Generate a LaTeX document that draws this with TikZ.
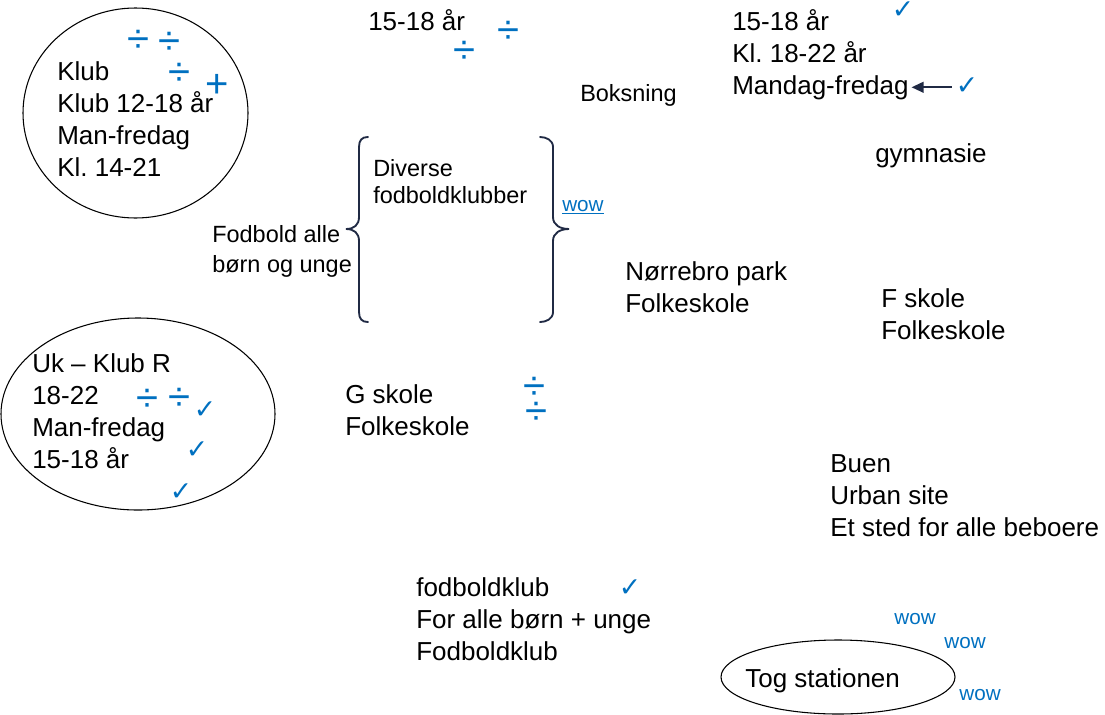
\documentclass[tikz,border=0pt]{standalone}
\usepackage{fontspec}
\setmainfont{Liberation Sans}
\newfontfamily\symfont{DejaVu Sans}
\usepackage{xcolor}
\usetikzlibrary{calc,arrows.meta}
\definecolor{pptblue}{RGB}{0, 112, 192}
\definecolor{pptnavy}{RGB}{32, 42, 68}
\frenchspacing

\begin{document}
\begin{tikzpicture}[x=0.75pt, y=-0.75pt,
  bigtext/.style={anchor=base west, align=left, inner sep=0pt, font=\fontsize{19.5}{24}\selectfont},
  smalltext/.style={anchor=base west, align=left, inner sep=0pt, font=\fontsize{17.6}{22}\selectfont},
  divmark/.style={inner sep=0pt, text=pptblue, font=\fontsize{30}{30}\selectfont},
  checkmark/.style={inner sep=0pt, text=pptblue, font=\symfont\fontsize{20}{20}\selectfont},
  wowtext/.style={inner sep=0pt, text=pptblue, font=\fontsize{15.5}{16}\selectfont},
  brace/.style={pptnavy, line width=1.4pt, line cap=round},
  bubble/.style={black, line width=0.8pt}]
\useasboundingbox (0,0) rectangle (1105,714);

% Klub bubble (text nodes sit on their last baseline)
\draw[bubble] (135.5,113) ellipse [x radius=112.5, y radius=105];
\node[bigtext] (klub) at (57,176) {Klub\\Klub 12-18 år\\Man-fredag\\Kl. 14-21};
\foreach \pos [count=\i] in {(138,41), (169,43), (179,74)} {
    \node[divmark] (klubdiv\i) at \pos {÷};
}
\node[divmark] (klubplus) at (217,86) {+};

% 15-18 aar and boksning
\node[bigtext] (alderA) at (368,30) {15-18 år};
\node[divmark] (alderAdiv1) at (464,52) {÷};
\node[divmark] (alderAdiv2) at (508,32) {÷};
\node[smalltext] (boksning) at (580,101) {Boksning};

% Top right block
\node[bigtext] (alderB) at (732,62) {15-18 år\\Kl. 18-22 år};
\node[bigtext] (mandag) at (732,94) {Mandag-fredag};
\node[checkmark] (chkB) at (903,10) {✓};
\node[checkmark] (chkMandag) at (967,86) {✓};
\draw[pptnavy, line width=1.5pt, -{Triangle[length=9pt,width=8pt]}, shorten <=3pt, shorten >=2pt]
    (chkMandag.west |- mandag.east) -- (mandag.east);

\node[bigtext] (gymnasie) at (875,162) {gymnasie};

% Fodbold with braces
\node[smalltext] (fodbold) at (212,272) {Fodbold alle\\børn og unge};
\node[smalltext, font=\fontsize{17.6}{20}\selectfont] (diverse) at (373,203) {Diverse\\fodboldklubber};
\draw[brace] (368,137) .. controls (362,137) and (359,140) .. (359,147) -- (359,217)
    .. controls (359,225) and (354,229) .. (346,229)
    .. controls (354,229) and (359,233) .. (359,241) -- (359,312)
    .. controls (359,319) and (362,322) .. (368,322);
\draw[brace] (540,137) .. controls (546,137) and (553,140) .. (553,147) -- (553,217)
    .. controls (553,225) and (560,229) .. (569,229)
    .. controls (560,229) and (553,233) .. (553,241) -- (553,312)
    .. controls (553,319) and (546,322) .. (540,322);
\node[wowtext, anchor=base west] (wowA) at (562,211) {\underline{wow}};

% Schools
\node[bigtext] (norrebro) at (625,312) {Nørrebro park\\Folkeskole};
\node[bigtext] (fskole) at (881,339) {F skole\\Folkeskole};

% Uk bubble
\draw[bubble] (138,414) ellipse [x radius=137, y radius=96];
\node[bigtext] (ukklub) at (32,468) {Uk – Klub R\\18-22\\Man-fredag\\15-18 år};
\foreach \pos [count=\i] in {(147,400), (179,399)} {
    \node[divmark] (ukdiv\i) at \pos {÷};
}
\foreach \pos [count=\i] in {(205,410), (197,450), (181,492)} {
    \node[checkmark] (ukchk\i) at \pos {✓};
}

% G skole
\node[bigtext] (gskole) at (345,435) {G skole\\Folkeskole};
\node[divmark] (gdiv1) at (534,388) {÷};
\node[divmark] (gdiv2) at (536,413) {÷};

\node[bigtext] (buen) at (830,536) {Buen\\Urban site\\Et sted for alle beboere};

% Fodboldklub
\node[bigtext] (fodboldklub) at (416,660) {fodboldklub\\For alle børn + unge\\Fodboldklub};
\node[checkmark] (chkKlub) at (630,588) {✓};

% Tog stationen
\draw[bubble] (838,677) ellipse [x radius=117, y radius=37];
\node[bigtext] (tog) at (745,687) {Tog stationen};
\foreach \pos [count=\i] in {(915,619), (965,643), (980,695)} {
    \node[wowtext] (togwow\i) at \pos {wow};
}
\end{tikzpicture}
\end{document}
